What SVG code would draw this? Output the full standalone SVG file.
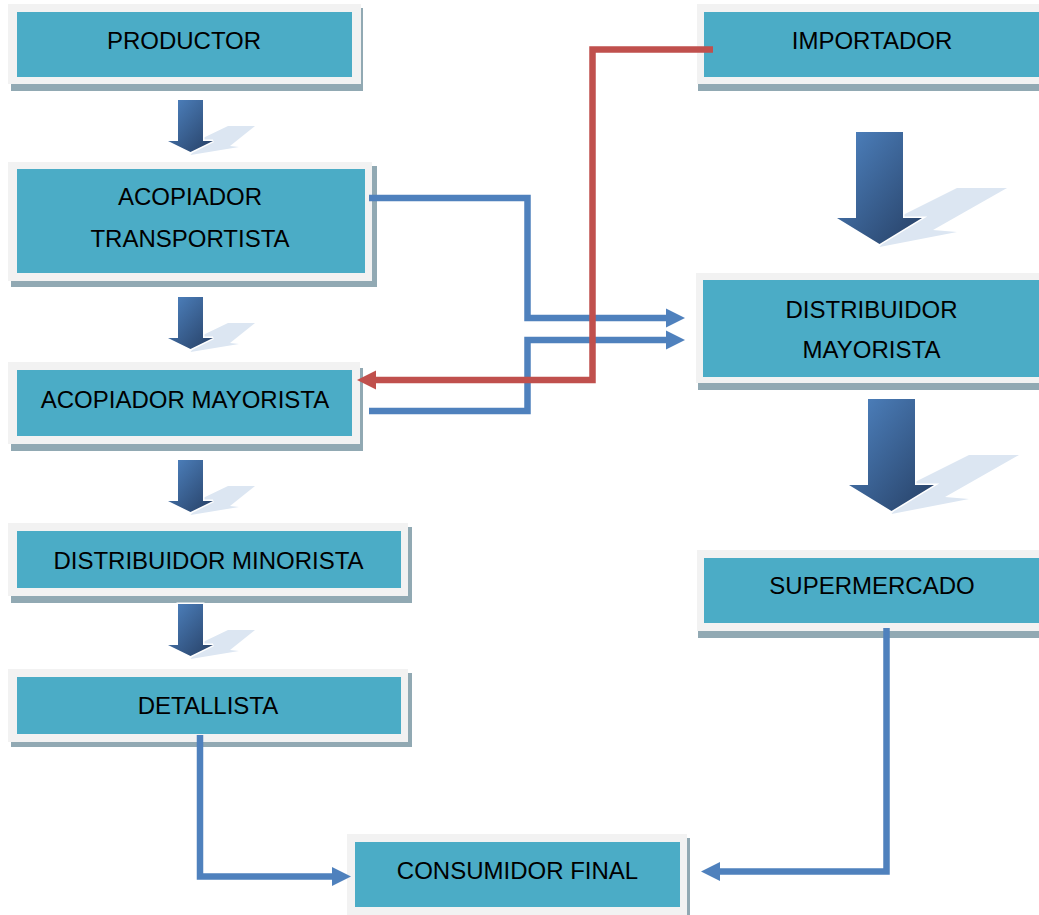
<svg xmlns="http://www.w3.org/2000/svg" xmlns:xlink="http://www.w3.org/1999/xlink" width="1039" height="915" viewBox="0 0 1039 915">
<style>
.sh{fill:#91a9b3}
.fr{fill:#f2f2f2}
.bx{fill:#4bacc6}
.tx{font-family:"Liberation Sans",Arial,sans-serif;font-size:24px;fill:#000;text-anchor:middle}
.cb{fill:none;stroke:#4f81bd;stroke-width:6.5;stroke-linejoin:miter}
.cr{fill:none;stroke:#c0504d;stroke-width:6.5;stroke-linejoin:miter}
.ash{fill:#dce6f2}
.abody{fill:url(#ag);stroke:#ffffff;stroke-width:3;stroke-linejoin:miter;paint-order:stroke}
</style>
<defs>
<linearGradient id="ag" x1="0" y1="0" x2="1" y2="1">
<stop offset="0" stop-color="#4f84c2"/>
<stop offset="1" stop-color="#263f64"/>
</linearGradient>
<marker id="hb" viewBox="0 -10 20 20" markerWidth="20" markerHeight="20" refX="0" refY="0" markerUnits="userSpaceOnUse" orient="auto" overflow="visible">
<path d="M0,-9.5 L19,0 L0,9.5 z" fill="#4f81bd"/>
</marker>
<marker id="hr" viewBox="0 -10 20 20" markerWidth="20" markerHeight="20" refX="0" refY="0" markerUnits="userSpaceOnUse" orient="auto" overflow="visible">
<path d="M0,-9.5 L19,0 L0,9.5 z" fill="#c0504d"/>
</marker>
<g id="smallArrow">
<polygon class="ash" points="12.5,38 37.5,26 64.5,26 39.5,46 48.5,47 0,55"/>
<polygon class="abody" points="-12.5,0 12.5,0 12.5,41 22.5,41 0,52 -22.5,41 -12.5,41"/>
</g>
<g id="bigArrow">
<polygon class="ash" points="23.5,83 77.5,56 127.5,56 53.5,98 77.5,100 0,115"/>
<polygon class="abody" points="-23.5,0 23.5,0 23.5,86 42.5,86 0,112 -42.5,86 -23.5,86"/>
</g>
</defs>
<rect width="1039" height="915" fill="#ffffff"/>

<g id="productor">
<rect class="sh" x="11" y="8" width="352" height="83"/>
<rect class="fr" x="8" y="4" width="353" height="80"/>
<rect class="bx" x="17" y="12" width="335" height="65"/>
<text class="tx" x="184" y="49">PRODUCTOR</text>
</g>
<g id="acopiador-transportista">
<rect class="sh" x="11" y="166" width="366" height="121"/>
<rect class="fr" x="8" y="162" width="364" height="119"/>
<rect class="bx" x="17" y="169" width="348" height="104"/>
<text class="tx" x="190" y="205">ACOPIADOR</text>
<text class="tx" x="190" y="247">TRANSPORTISTA</text>
</g>
<g id="acopiador-mayorista">
<rect class="sh" x="11" y="368" width="352" height="83"/>
<rect class="fr" x="8" y="362" width="352" height="82"/>
<rect class="bx" x="17" y="370" width="335" height="66"/>
<text class="tx" x="185" y="408">ACOPIADOR MAYORISTA</text>
</g>
<g id="distribuidor-minorista">
<rect class="sh" x="11" y="527" width="401" height="76"/>
<rect class="fr" x="8" y="523" width="400" height="73"/>
<rect class="bx" x="17" y="531" width="384" height="57"/>
<text class="tx" x="208.5" y="569">DISTRIBUIDOR MINORISTA</text>
</g>
<g id="detallista">
<rect class="sh" x="11" y="673" width="401" height="74"/>
<rect class="fr" x="8" y="669" width="400" height="73"/>
<rect class="bx" x="17" y="677" width="384" height="57"/>
<text class="tx" x="208" y="714">DETALLISTA</text>
</g>
<g id="consumidor-final">
<rect class="sh" x="350" y="838" width="340" height="82"/>
<rect class="fr" x="347" y="834" width="340" height="81"/>
<rect class="bx" x="355" y="842" width="325" height="65"/>
<text class="tx" x="517.5" y="879">CONSUMIDOR FINAL</text>
</g>
<g id="importador">
<rect class="sh" x="698" y="8" width="347" height="83"/>
<rect class="fr" x="697" y="4" width="348" height="80"/>
<rect class="bx" x="704" y="12" width="341" height="65"/>
<text class="tx" x="872" y="49">IMPORTADOR</text>
</g>
<g id="distribuidor-mayorista">
<rect class="sh" x="698" y="277" width="347" height="113"/>
<rect class="fr" x="696" y="273" width="349" height="110"/>
<rect class="bx" x="703" y="280" width="342" height="97"/>
<text class="tx" x="871.5" y="318">DISTRIBUIDOR</text>
<text class="tx" x="871.5" y="358">MAYORISTA</text>
</g>
<g id="supermercado">
<rect class="sh" x="698" y="554" width="347" height="84"/>
<rect class="fr" x="697" y="550" width="348" height="81"/>
<rect class="bx" x="704" y="558" width="341" height="65"/>
<text class="tx" x="872" y="594">SUPERMERCADO</text>
</g>

<g id="connectors">
<use xlink:href="#smallArrow" href="#smallArrow" transform="translate(190.5,100)"/>
<use xlink:href="#smallArrow" href="#smallArrow" transform="translate(190.5,297)"/>
<use xlink:href="#smallArrow" href="#smallArrow" transform="translate(190.5,460)"/>
<use xlink:href="#smallArrow" href="#smallArrow" transform="translate(190.5,604)"/>
<use xlink:href="#bigArrow" href="#bigArrow" transform="translate(879.5,132)"/>
<use xlink:href="#bigArrow" href="#bigArrow" transform="translate(891.5,399)"/>
<path class="cb" d="M369,198 H527.5 V318 H666" marker-end="url(#hb)"/>
<path class="cb" d="M369,411 H527.5 V340 H666" marker-end="url(#hb)"/>
<path class="cb" d="M200,735 V876.5 H332" marker-end="url(#hb)"/>
<path class="cb" d="M886.5,628 V871.5 H720" marker-end="url(#hb)"/>
<path class="cr" d="M713,49.5 H592.5 V380 H376" marker-end="url(#hr)"/>
</g>
</svg>
